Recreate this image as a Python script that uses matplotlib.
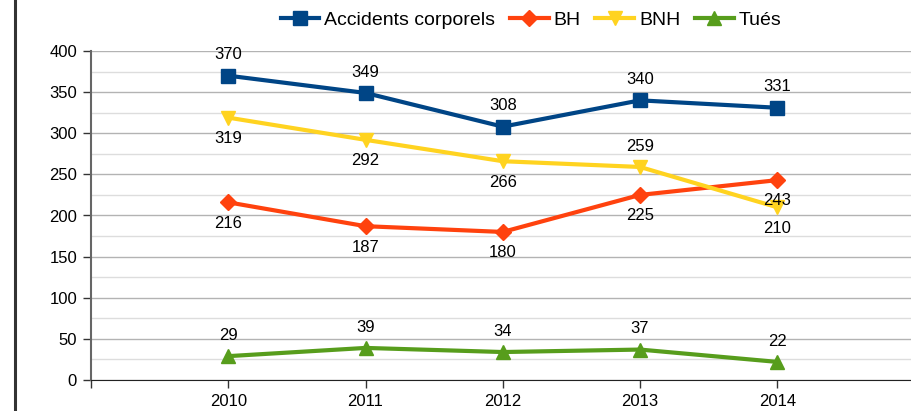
import matplotlib.pyplot as plt
from matplotlib.lines import Line2D
from matplotlib.ticker import MultipleLocator

plt.rcParams['font.family'] = ['Liberation Sans', 'DejaVu Sans']

years = [2010, 2011, 2012, 2013, 2014]
accidents = [370, 349, 308, 340, 331]
bh = [216, 187, 180, 225, 243]
bnh = [319, 292, 266, 259, 210]
tues = [29, 39, 34, 37, 22]

names = ['Accidents corporels', 'BH', 'BNH', 'Tués']
colors = ['#004586', '#ff420e', '#ffd320', '#579d1c']
markers = ['s', 'D', 'v', '^']
msizes = [10, 8, 10, 10]
# label above (+1) or below (-1) each point
label_side = [
    [1, 1, 1, 1, 1],
    [-1, -1, -1, -1, -1],
    [-1, -1, -1, 1, -1],
    [1, 1, 1, 1, 1],
]

fig = plt.figure(figsize=(9.12, 4.11), dpi=100)
ax = fig.add_axes([91 / 912, 1 - 380 / 411, (914.5 - 91) / 912, (380 - 51) / 411])

series = [accidents, bh, bnh, tues]
handles = []
for vals, name, c, m, ms, sides in zip(series, names, colors, markers, msizes, label_side):
    h, = ax.plot(years, vals, color=c, lw=3, marker=m, ms=ms, label=name, zorder=3)
    handles.append(h)
    for x, v, s in zip(years, vals, sides):
        ax.annotate(str(v), (x, v), xytext=(0, 15 * s), textcoords='offset points',
                    ha='center', va='center', fontsize=12, color='black', zorder=4)

ax.set_xlim(2009, 2015)
ax.set_ylim(0, 400)
ax.set_xticks(years)
ax.set_xticks([2009], minor=True)
ax.yaxis.set_major_locator(MultipleLocator(50))
ax.yaxis.set_minor_locator(MultipleLocator(25))
ax.grid(axis='y', which='major', color='#b3b3b3', lw=1, zorder=0)
ax.grid(axis='y', which='minor', color='#dddddd', lw=1, zorder=0)
ax.tick_params(axis='y', which='minor', length=0)
ax.tick_params(axis='x', which='minor', length=6, color='#333333', width=1)
ax.tick_params(axis='both', which='major', labelsize=12, length=6, color='#333333', width=1, pad=4)
ax.spines['top'].set_visible(False)
ax.spines['right'].set_visible(False)
ax.spines['left'].set_color('#666666')
ax.spines['left'].set_linewidth(1.5)
ax.spines['bottom'].set_color('#222222')
ax.set_axisbelow(True)

fig.legend(handles=handles, loc='center', bbox_to_anchor=(531 / 912, 1 - 20 / 411), ncol=4,
           frameon=False, fontsize=14, handlelength=2.0, columnspacing=0.75, handletextpad=0.25)

fig.add_artist(Line2D([15 / 912, 15 / 912], [0, 1], color='#333333', lw=2.2,
                      transform=fig.transFigure))

fig.savefig('out.png', dpi=100)
